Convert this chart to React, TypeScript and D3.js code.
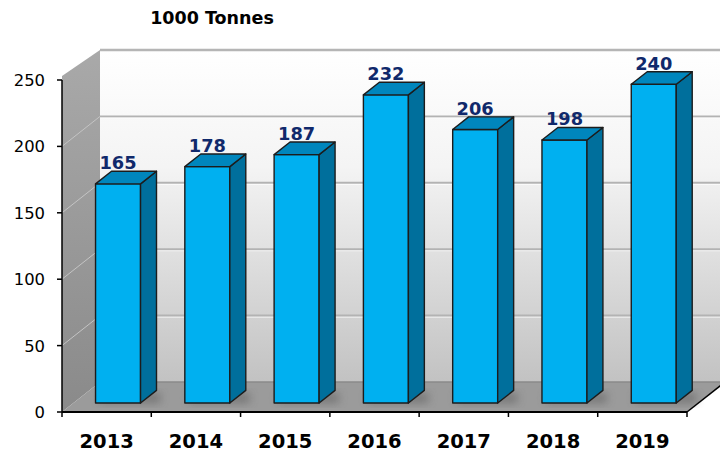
import React from 'react';
import * as d3 from 'd3';

const years = ['2013', '2014', '2015', '2016', '2017', '2018', '2019'];
const values = [165, 178, 187, 232, 206, 198, 240];
const yTicks = [0, 50, 100, 150, 200, 250];
const title = '1000 Tonnes';

const W = 720;
const H = 455;
const left = 62;
const right = 687;
const bottom = 412;
const top = 80;
// depth of the 3d box
const DX = 38;
const DY = -30;
// bar placed inside the depth
const barT0 = 0.3;
const barDepth = 0.42;

const x = d3.scaleBand<string>().domain(years).range([left, right]).padding(0);
const y = d3.scaleLinear().domain([0, 250]).range([bottom, top]);

const pts = (p: number[][]) => p.map(d => d.join(',')).join(' ');

const App = () => {
    const bw = x.bandwidth() * 0.504;
    const fdx = DX * barT0;
    const fdy = DY * barT0;
    const bdx = DX * barDepth;
    const bdy = DY * barDepth;
    const floorBackY = bottom + DY;
    const wallTop = y(250) + DY;

    return (
        <svg width={W} height={H} style={{ position: 'absolute', left: 0, top: 0 }}
            fontFamily="'DejaVu Sans', sans-serif">
            <defs>
                <linearGradient id="backWall" x1="0" y1="0" x2="0" y2="1">
                    <stop offset="0" stopColor="#ffffff" />
                    <stop offset="0.35" stopColor="#f4f4f4" />
                    <stop offset="1" stopColor="#c2c2c2" />
                </linearGradient>
                <linearGradient id="sideWall" x1="0" y1="0" x2="0" y2="1">
                    <stop offset="0" stopColor="#a9a9a9" />
                    <stop offset="1" stopColor="#8a8a8a" />
                </linearGradient>
                <filter id="blur" x="-50%" y="-50%" width="200%" height="200%">
                    <feGaussianBlur stdDeviation="4" />
                </filter>
            </defs>
            <rect width={W} height={H} fill="#ffffff" />

            {/* title */}
            <text x={212} y={24} textAnchor="middle" fontWeight="bold" fontSize={17.5} fill="#000">
                {title}
            </text>

            {/* back wall */}
            <polygon points={pts([[left + DX, wallTop], [W + 10, wallTop], [W + 10, floorBackY], [left + DX, floorBackY]])}
                fill="url(#backWall)" />
            <line x1={left + DX} x2={W + 10} y1={wallTop} y2={wallTop} stroke="#b5b5b5" strokeWidth={2.5} />

            {/* left wall */}
            <polygon points={pts([[left, top - 4], [left + DX, wallTop], [left + DX, floorBackY], [left, bottom]])}
                fill="url(#sideWall)" />

            {/* grid lines */}
            {yTicks.filter(t => t > 0 && t < 250).map(t => (
                <g key={t}>
                    <line x1={left + DX} x2={W + 10} y1={y(t) + DY} y2={y(t) + DY} stroke="#b3b3b3" strokeWidth={2} />
                    <line x1={left + DX} x2={W + 10} y1={y(t) + DY + 1.6} y2={y(t) + DY + 1.6} stroke="#ffffff" strokeOpacity={0.7} strokeWidth={1} />
                    <line x1={left} x2={left + DX} y1={y(t)} y2={y(t) + DY} stroke="#c4c4c4" strokeWidth={1} />
                </g>
            ))}

            {/* floor */}
            <polygon points={pts([[left, bottom], [right, bottom], [right + DX, floorBackY], [left + DX, floorBackY]])}
                fill="#9b9b9b" />
            <line x1={left + DX} x2={right + DX} y1={floorBackY} y2={floorBackY} stroke="#8a8a8a" strokeWidth={1.5} />

            {/* shadows */}
            {years.map(yr => {
                const x0 = (x(yr) as number) + x.bandwidth() / 2 - bw / 2 + fdx;
                return (
                    <rect key={yr} x={x0 + 4} y={bottom + fdy - 10} width={bw + bdx} height={10}
                        fill="#5a5a5a" opacity={0.55} filter="url(#blur)" />
                );
            })}

            {/* bars */}
            {years.map((yr, i) => {
                const x0 = (x(yr) as number) + x.bandwidth() / 2 - bw / 2 + fdx;
                const x1 = x0 + bw;
                const yTop = y(values[i]) + fdy;
                const yBot = y(0) + fdy;
                return (
                    <g key={yr} stroke="#1c1c1c" strokeWidth={1.4} strokeLinejoin="round">
                        <rect x={x0} y={yTop} width={bw} height={yBot - yTop} fill="#00b0f0" />
                        <polygon points={pts([[x1, yTop], [x1 + bdx, yTop + bdy], [x1 + bdx, yBot + bdy], [x1, yBot]])}
                            fill="#006f9c" />
                        <polygon points={pts([[x0, yTop], [x0 + bdx, yTop + bdy], [x1 + bdx, yTop + bdy], [x1, yTop]])}
                            fill="#0086bd" />
                    </g>
                );
            })}

            {/* value labels */}
            {years.map((yr, i) => (
                <text key={yr} x={(x(yr) as number) + x.bandwidth() / 2 + fdx}
                    y={y(values[i]) + fdy + bdy - 2} textAnchor="middle"
                    fontWeight="bold" fontSize={17.8} fill="#10296b">
                    {values[i]}
                </text>
            ))}

            {/* axes */}
            <line x1={left} x2={left} y1={top} y2={bottom} stroke="#000" strokeWidth={1.5} />
            {yTicks.map(t => (
                <g key={t}>
                    <line x1={left - 5} x2={left} y1={y(t)} y2={y(t)} stroke="#000" strokeWidth={1.5} />
                    <text x={45} y={y(t)} dy="0.36em" textAnchor="end" fontSize={16.4} fill="#000">{t}</text>
                </g>
            ))}
            <line x1={left} x2={right} y1={bottom} y2={bottom} stroke="#000" strokeWidth={1.8} />
            <line x1={right} x2={right + DX} y1={bottom} y2={floorBackY} stroke="#000" strokeWidth={1.5} />
            {[...years.map(yr => x(yr) as number), right].map((v, i) => (
                <line key={i} x1={v} x2={v} y1={bottom} y2={bottom + 5} stroke="#000" strokeWidth={1.5} />
            ))}
            {years.map(yr => (
                <text key={yr} x={(x(yr) as number) + x.bandwidth() / 2} y={448} textAnchor="middle"
                    fontWeight="bold" fontSize={19.5} fill="#000">
                    {yr}
                </text>
            ))}
        </svg>
    );
};

export default App;
